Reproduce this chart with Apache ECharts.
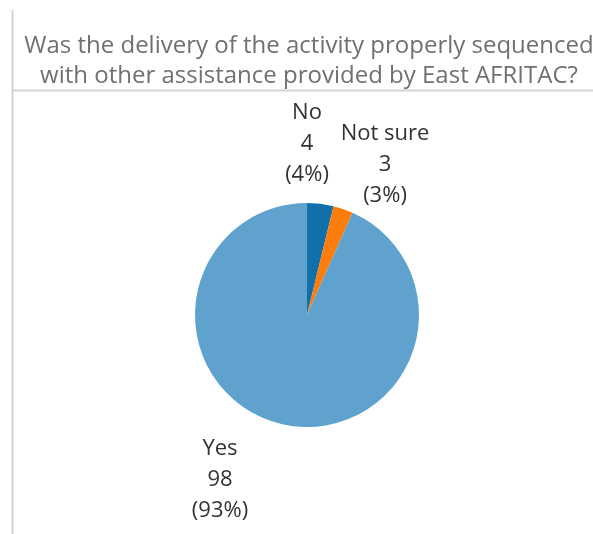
<!DOCTYPE html>
<html>
<head>
    <meta charset="utf-8">
    <title>Delivery sequencing</title>
    <script src="https://cdn.jsdelivr.net/npm/echarts@6/dist/echarts.min.js"></script>
</head>
<body style="margin:0;background:#fff;">
    <div id="main" style="width: 593px;height:534px;"></div>
<script type="text/javascript">
    // answers, counts and colours (start at 12 o'clock, clockwise)
    var categories = ['No', 'Not sure', 'Yes'];
    var counts = [4, 3, 98];
    var colors = ['#1170aa', '#fc7d0b', '#5fa2ce'];

    var cx = 307, cy = 315, r = 112;
    // where Tableau put each label block (top-centre), offsets from pie centre
    var labelOffsets = [[0, -218], [78, -197], [-87, 118]];

    var myChart = echarts.init(document.getElementById('main'));

    var option = {
        backgroundColor: '#fff',
        animation: false,
        title: {
            text: 'Was the delivery of the activity properly sequenced\nwith other assistance provided by East AFRITAC?',
            left: 304,
            top: 26,
            textAlign: 'center',
            textStyle: {
                fontFamily: 'Open Sans',
                fontWeight: 'normal',
                fontSize: 24,
                lineHeight: 30,
                color: '#707070'
            }
        },
        graphic: [
            { type: 'line', shape: { x1: 12.5, y1: 10, x2: 12.5, y2: 534 }, style: { stroke: '#d4d4d4', lineWidth: 2 } },
            { type: 'line', shape: { x1: 12, y1: 90.5, x2: 593, y2: 90.5 }, style: { stroke: '#d4d4d4', lineWidth: 2 } }
        ],
        series: [
            {
                type: 'pie',
                center: [cx, cy],
                radius: r,
                startAngle: 90,
                clockwise: true,
                percentPrecision: 0,
                data: categories.map(function (c, i) {
                    return { name: c, value: counts[i], itemStyle: { color: colors[i] } };
                }),
                label: {
                    show: true,
                    position: 'outside',
                    formatter: '{b}\n{c}\n({d}%)',
                    fontFamily: 'Open Sans',
                    fontSize: 22,
                    lineHeight: 31,
                    color: '#333',
                    align: 'center'
                },
                labelLine: { show: false },
                labelLayout: function (params) {
                    var o = labelOffsets[params.dataIndex];
                    return {
                        x: cx + o[0],
                        y: cy + o[1],
                        align: 'center',
                        verticalAlign: 'top'
                    };
                },
                emphasis: { disabled: true }
            }
        ]
    };
    myChart.setOption(option);
</script>
</body>
</html>
